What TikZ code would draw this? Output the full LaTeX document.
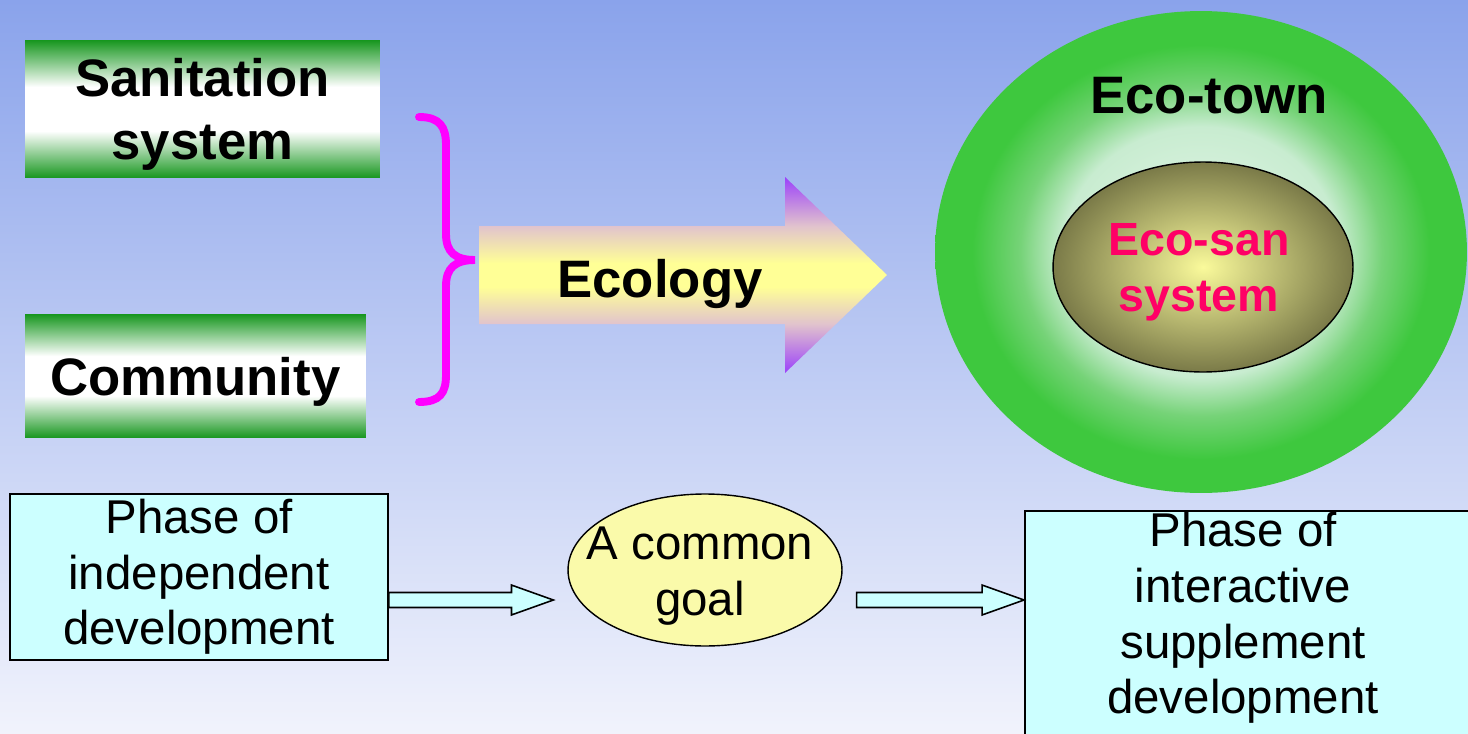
\documentclass[tikz,border=0pt]{standalone}
\usepackage{fontspec}
\setmainfont{Liberation Sans}
\usetikzlibrary{positioning,calc,shapes.geometric}

\definecolor{bgtop}{RGB}{138,163,235}
\definecolor{bgbottom}{RGB}{241,243,252}
\definecolor{boxgreen}{RGB}{22,150,30}
\definecolor{bracepink}{RGB}{255,0,255}
\definecolor{arrowpurple}{RGB}{155,65,250}
\definecolor{arrowpink}{RGB}{225,195,205}
\definecolor{arrowyellow}{RGB}{255,255,150}
\definecolor{towngreen}{RGB}{62,200,62}
\definecolor{townlight}{RGB}{232,246,236}
\definecolor{townmint}{RGB}{200,236,208}
\definecolor{townmid}{RGB}{118,211,120}
\definecolor{sanolive}{RGB}{122,122,72}
\definecolor{sanyellow}{RGB}{250,250,155}
\definecolor{sanred}{RGB}{255,0,102}
\definecolor{phasecyan}{RGB}{204,255,255}
\definecolor{goalyellow}{RGB}{250,250,170}

\pgfdeclareverticalshading{greenbar}{100bp}{color(0bp)=(boxgreen); color(25bp)=(boxgreen); color(42bp)=(white); color(58bp)=(white); color(75bp)=(boxgreen); color(100bp)=(boxgreen)}
\pgfdeclareverticalshading{ecologyshade}{100bp}{color(0bp)=(arrowpurple); color(25bp)=(arrowpurple); color(37.5bp)=(arrowpink); color(47bp)=(arrowyellow); color(53bp)=(arrowyellow); color(62.5bp)=(arrowpink); color(75bp)=(arrowpurple); color(100bp)=(arrowpurple)}
\pgfdeclareradialshading{ecotownshade}{\pgfpoint{0bp}{0bp}}{color(0bp)=(townlight); color(13bp)=(townmint); color(17bp)=(townmid); color(21.5bp)=(towngreen); color(25bp)=(towngreen); color(50bp)=(towngreen)}

\newcommand{\blockarrow}[2]{\draw[blockarrow] let \p1=(#1), \p2=(#2) in
  (\x1,\y1+4.25pt) -- (\x2-23.8pt,\y1+4.25pt) -- (\x2-23.8pt,\y1+8.5pt) -- (\x2,\y1)
  -- (\x2-23.8pt,\y1-8.5pt) -- (\x2-23.8pt,\y1-4.25pt) -- (\x1,\y1-4.25pt) -- cycle;}

\begin{document}
\begin{tikzpicture}[x=0.02cm, y=-0.02cm, semithick]
	\tikzstyle{greenbox}=[shading=greenbar, inner sep=0pt, align=center, text depth=0pt,
	font=\fontsize{30}{36}\selectfont\bfseries]
	\tikzstyle{phasebox}=[draw=black, fill=phasecyan, line width=1pt, inner sep=0pt]
	\tikzstyle{phasetext}=[font=\fontsize{27}{31.7}\selectfont, align=center, inner sep=0pt]
	\tikzstyle{blockarrow}=[draw=black, fill=phasecyan, line width=0.9pt]
	\tikzstyle{bigtext}=[font=\fontsize{30}{36}\selectfont\bfseries, inner sep=0pt]

	\useasboundingbox (0,0) rectangle (1468,734);
	\clip (0,0) rectangle (1468,734);
	\shade[top color=bgtop, bottom color=bgbottom] (0,0) rectangle (1468,734);

	\node[greenbox, minimum width=7.1cm, minimum height=2.76cm] (sanit) at (202.5,109)
	{Sanitation\\system}; \node[greenbox, minimum width=6.82cm, minimum height=2.48cm,
	below right=2.7cm and 0cm of sanit.south west] (commun) {Community};

	\draw[bracepink, line width=4.5pt, line cap=round] (419,117) .. controls (440,117)
	and (446,127) .. (446,145) -- (446,234) .. controls (446,252) and (455,260) ..
	(475,260) .. controls (455,260) and (446,268) .. (446,286) -- (446,375) .. controls
	(446,393) and (440,402) .. (419,402);

	\shade[shading=ecologyshade] (479,226) -- (785,226) -- (785,177) -- (887,275) --
	(785,373) -- (785,324) -- (479,324) -- cycle;
	\node[bigtext, anchor=base] (ecology) at (660,297) {Ecology};

	\node[ellipse, shading=ecotownshade, minimum width=10.64cm, minimum height=9.64cm]
	(town) at (1201,252) {}; \node[bigtext, anchor=base] (towntext) at (1209,113)
	{Eco-town}; \node[ellipse, draw=black, line width=0.8pt, inner color=sanyellow,
	outer color=sanolive, minimum width=6cm, minimum height=4.2cm] (ecosan) at
	(1203,267) {}; \node[font=\fontsize{26.5}{31.7}\selectfont\bfseries, text=sanred,
	align=center, inner sep=0pt] (ecosantext) at (1199,272) {Eco-san\\system};

	\node[phasebox, phasetext, minimum width=7.56cm, minimum height=3.32cm] (indep) at
	(199,577) {Phase of\\independent\\development};
	\node[ellipse, draw=black, line width=0.8pt, fill=goalyellow, minimum width=5.48cm,
	minimum height=3.04cm, inner sep=0pt] (goal) at (705,570) {};
	\node[phasetext] (goaltext) at (700,576) {A common\\goal};
	\node[phasebox, anchor=north west, minimum width=8.9cm, minimum height=5cm] (inter)
	at (1024,510) {}; \node[phasetext, anchor=north] (intertext) at (1243,512) {Phase
	of\\interactive\\supplement\\development};

	\coordinate (arrowrow) at (0,600);
	\blockarrow{indep.east |- arrowrow}{[xshift=-0.28cm]goal.west |- arrowrow}
	\blockarrow{[xshift=0.28cm]goal.east |- arrowrow}{inter.west |- arrowrow}
\end{tikzpicture}
\end{document}
